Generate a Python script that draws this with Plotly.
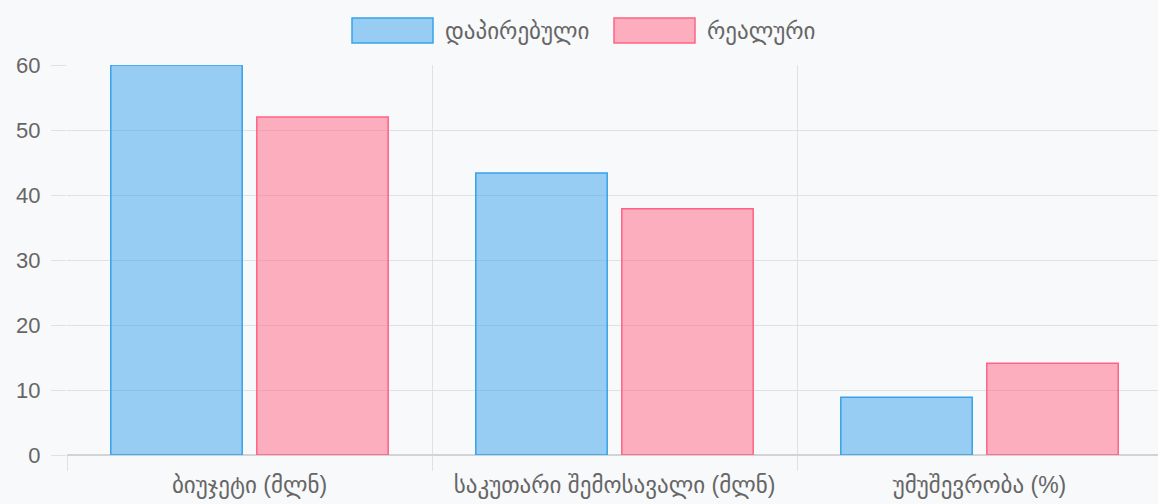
import plotly.graph_objects as go

categories = ["ბიუჯეტი (მლნ)", "საკუთარი შემოსავალი (მლნ)", "უმუშევრობა (%)"]
series_names = ["დაპირებული", "რეალური"]
promised = [60, 43.4, 8.9]
actual = [52, 37.9, 14.1]
y_ticks = [0, 10, 20, 30, 40, 50, 60]

fills = ["rgba(54,162,235,0.5)", "rgba(255,99,132,0.5)"]
borders = ["rgb(54,162,235)", "rgb(255,99,132)"]

W, H = 1162, 504
ML, MR, MT, MB = 67, 0, 65, 49
font_fam = "Liberation Sans, Arial, DejaVu Sans, sans-serif"
grid = "#e0e1e3"

fig = go.Figure()
for name, vals, fc, bc in zip(series_names, [promised, actual], fills, borders):
    fig.add_trace(go.Bar(x=categories, y=vals, name=name,
                         marker=dict(color=fc, line=dict(color=bc, width=1.5)),
                         showlegend=False))

# custom legend (Chart.js-like wide boxes)
pw = W - ML - MR
ph = H - MT - MB
def px_x(p):
    return (p - ML) / pw
def px_y(p):
    return (H - MB - p) / ph

box_w, box_h = 81, 25
legend_items = [(352, series_names[0]), (614, series_names[1])]
shapes = []
annotations = []
for (x0, name), fc, bc in zip(legend_items, fills, borders):
    shapes.append(dict(type="rect", xref="paper", yref="paper",
                       x0=px_x(x0), x1=px_x(x0 + box_w),
                       y0=px_y(18 + box_h), y1=px_y(18),
                       fillcolor=fc, line=dict(color=bc, width=1.5)))
    annotations.append(dict(xref="paper", yref="paper", x=px_x(x0 + box_w + 10), y=px_y(31),
                            xanchor="left", yanchor="middle", text=name, showarrow=False,
                            font=dict(size=23, color="#666666", family=font_fam)))

fig.update_layout(
    width=W, height=H,
    margin=dict(l=ML, r=MR, t=MT, b=MB),
    paper_bgcolor="#f8f9fa", plot_bgcolor="#f8f9fa",
    barmode="group", bargap=0.2, bargroupgap=0.1,
    font=dict(family=font_fam, size=18, color="#666666"),
    shapes=shapes, annotations=annotations,
    xaxis=dict(tickson="boundaries", showgrid=True, gridcolor=grid, gridwidth=1,
               ticks="outside", ticklen=15, tickcolor=grid, tickwidth=1,
               showline=False, zeroline=False, ticklabelstandoff=14,
               tickfont=dict(size=23, color="#666666")),
    yaxis=dict(range=[0, 60], tickvals=y_ticks, showgrid=True, gridcolor=grid, gridwidth=1,
               ticks="outside", ticklen=15, tickcolor=grid, tickwidth=1,
               zeroline=True, zerolinecolor="#d2d3d5", zerolinewidth=1.5,
               showline=False, ticklabelstandoff=6,
               tickfont=dict(size=22, color="#666666")),
)

fig.write_html("out.html",
               config={"displayModeBar": False},
               post_script="document.body.style.margin='0';document.body.style.padding='0';document.body.style.overflow='hidden';")
